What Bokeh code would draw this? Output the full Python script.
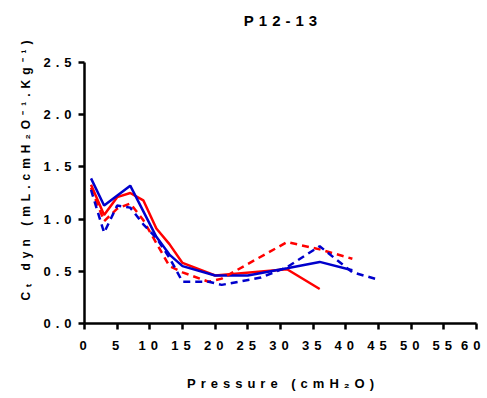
import math
from bokeh.plotting import figure
from bokeh.embed import file_html
from bokeh.resources import INLINE
from bokeh.models import (FixedTicker, NumeralTickFormatter, InlineStyleSheet,
                          CustomJSTickFormatter, ColumnDataSource)
from bokeh.core.properties import value

# Data
red_solid_x = [1, 3, 5, 7, 9, 11, 13, 15, 20, 31, 36]
red_solid_y = [1.33, 1.04, 1.21, 1.25, 1.18, 0.91, 0.76, 0.58, 0.46, 0.52, 0.33]

blue_solid_x = [1, 3, 7, 11, 13, 15, 20, 25, 31, 36, 41]
blue_solid_y = [1.39, 1.13, 1.32, 0.83, 0.66, 0.55, 0.46, 0.46, 0.53, 0.59, 0.51]

red_dash_x = [1, 3, 5, 7, 9, 11, 13, 15, 19, 21, 31, 36, 41]
red_dash_y = [1.30, 0.98, 1.10, 1.15, 0.99, 0.77, 0.55, 0.49, 0.40, 0.43, 0.78, 0.71, 0.62]

blue_dash_x = [1, 3, 5, 7, 9, 11, 13, 15, 19, 21, 27, 31, 36, 41, 45]
blue_dash_y = [1.28, 0.87, 1.13, 1.11, 0.95, 0.82, 0.63, 0.40, 0.40, 0.37, 0.44, 0.54, 0.74, 0.49, 0.42]

x_ticks = list(range(0, 61, 5))
x_tick_labels = [str(t) for t in x_ticks]
y_ticks = [0.0, 0.5, 1.0, 1.5, 2.0, 2.5]

title_text = "P12-13"
x_label = "Pressure (cmH\u2082O)"
y_label = "C\u209c dyn (mL.cmH\u2082O\u207b\u00b9.Kg\u207b\u00b9)"

FONT = "Liberation Sans"
RED = "#FF0000"
BLUE = "#0000CC"
SP = 5      # letter spacing, px

X0, X1 = 0, 60
Y0, Y1 = 0, 2.5
W, H = 487, 398
LEFT, RIGHT, TOP, BOTTOM = 84, 11, 62, 75
FRAME_R = W - RIGHT

p = figure(width=W, height=H, output_backend="svg", toolbar_location=None,
           x_range=(X0, X1), y_range=(Y0, Y1),
           min_border_left=LEFT, min_border_right=RIGHT, min_border_top=TOP,
           min_border_bottom=BOTTOM)
p.stylesheets = [InlineStyleSheet(css=":host { letter-spacing: %spx; }" % SP)]

p.outline_line_color = None
p.grid.visible = False

for ax in (p.xaxis[0], p.yaxis[0]):
    ax.axis_line_width = 2.5
    ax.axis_line_color = "black"
    ax.major_tick_line_width = 2.5
    ax.major_tick_out = 6
    ax.major_tick_in = 0
    ax.minor_tick_line_color = None
    ax.major_label_text_font = FONT
    ax.major_label_text_font_style = "bold"
    ax.major_label_text_font_size = "13px"
    ax.major_label_text_color = "black"

p.xaxis[0].ticker = FixedTicker(ticks=x_ticks)
p.xaxis[0].formatter = CustomJSTickFormatter(code="return ''")
p.yaxis[0].ticker = FixedTicker(ticks=y_ticks)
p.yaxis[0].formatter = NumeralTickFormatter(format="0.0")
p.yaxis[0].major_label_standoff = 17


def spaced_shift(s, sp=SP):
    # how far the letter spacing moves the visible centre of a text
    return (len(s) - 1) * sp / 2


def tick_dx(t, tick):
    dx = -spaced_shift(t) - 1.5
    natural = len(t) * 0.556 * 13
    sx = LEFT + (tick - X0) / (X1 - X0) * (FRAME_R - LEFT)
    limit = (W - 2) - sx - natural / 2 - len(t) * SP
    return min(dx, limit)


src = ColumnDataSource(dict(x=x_ticks, y=[Y0] * len(x_ticks), t=x_tick_labels,
                            dx=[tick_dx(t, v) for t, v in zip(x_tick_labels, x_ticks)]))
r = p.text(x="x", y="y", text="t", x_offset="dx", y_offset=17, source=src,
           text_align="center", text_baseline="top", text_font=value(FONT),
           text_font_style="bold", text_font_size="13px", text_color="black")
r.level = "overlay"

xc = (X0 + X1) / 2
yc = (Y0 + Y1) / 2
frame_mid_y = TOP + (H - TOP - BOTTOM) / 2

t1 = p.text(x=[xc], y=[Y1], text=[title_text], x_offset=-spaced_shift(title_text), y_offset=20 - TOP,
            text_align="center", text_baseline="middle", text_font=value(FONT),
            text_font_style="bold", text_font_size="15px", text_color="black")
t1.level = "overlay"

t2 = p.text(x=[xc], y=[Y0], text=[x_label], x_offset=-spaced_shift(x_label), y_offset=60,
            text_align="center", text_baseline="middle", text_font=value(FONT),
            text_font_style="bold", text_font_size="13px", text_color="black")
t2.level = "overlay"

t3 = p.text(x=[X0], y=[yc], text=[y_label], x_offset=25 - LEFT,
            y_offset=170 + spaced_shift(y_label) - frame_mid_y, angle=math.pi / 2,
            text_align="center", text_baseline="middle", text_font=value(FONT),
            text_font_style="bold", text_font_size="12px", text_color="black")
t3.level = "overlay"

p.line(red_solid_x, red_solid_y, line_color=RED, line_width=2.5)
p.line(blue_solid_x, blue_solid_y, line_color=BLUE, line_width=2.5)
p.line(red_dash_x, red_dash_y, line_color=RED, line_width=2.5, line_dash="7 5")
p.line(blue_dash_x, blue_dash_y, line_color=BLUE, line_width=2.5, line_dash="7 5")

open("out.html", "w").write(file_html(p, INLINE))
